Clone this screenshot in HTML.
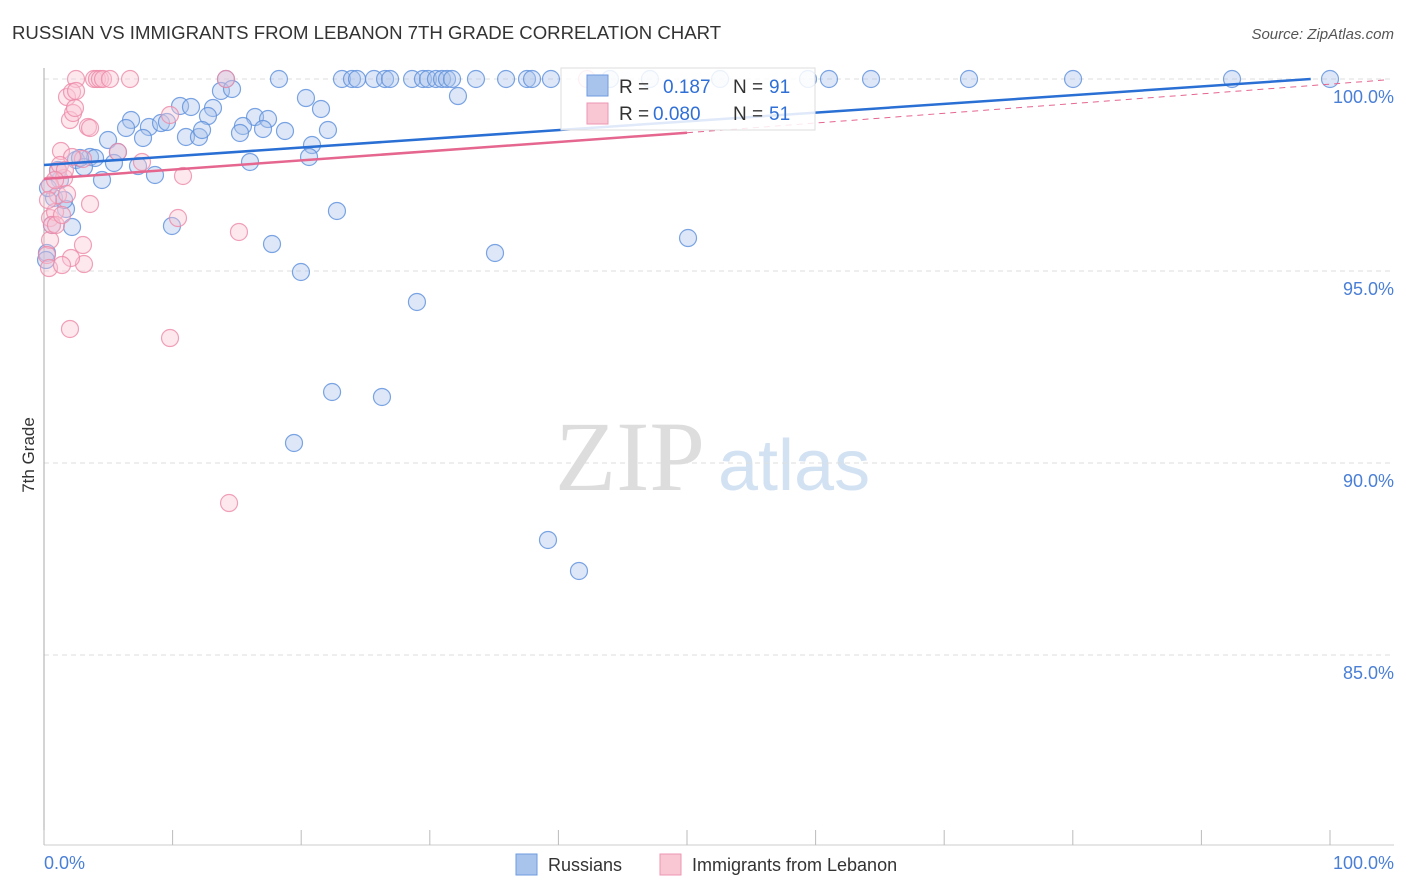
<!DOCTYPE html>
<html><head><meta charset="utf-8"><style>
body{margin:0;background:#fff;font-family:"Liberation Sans",sans-serif}
svg{display:block}
</style></head><body>
<svg id="c" width="1406" height="892">
<text x="12" y="39" font-size="18.6" fill="#333">RUSSIAN VS IMMIGRANTS FROM LEBANON 7TH GRADE CORRELATION CHART</text>
<text x="1394" y="39" font-size="15" fill="#555" text-anchor="end" font-style="italic">Source: ZipAtlas.com</text>
<text x="34" y="455" font-size="17" fill="#333" transform="rotate(-90 34 455)" text-anchor="middle">7th Grade</text>
<text x="555" y="490" font-size="100" fill="#ddd" font-family="Liberation Serif,serif">ZIP</text>
<text x="718" y="490" font-size="72" fill="#d3e2f3">atlas</text>
<g id="grid"></g><g id="pts"></g><g id="lines"></g>
<g>
<rect x="561" y="68" width="254" height="62" fill="#fff" fill-opacity="0.85" stroke="#ddd"/>
<rect x="587" y="75" width="21" height="21" fill="#a9c4ec" stroke="#6f9be0"/>
<rect x="587" y="103" width="21" height="21" fill="#f9c6d4" stroke="#ec96b0"/>
<text x="619" y="93" font-size="19" fill="#333">R = </text><text x="663" y="93" font-size="19" fill="#2f6fd6">0.187</text>
<text x="733" y="93" font-size="19" fill="#333">N = </text><text x="769" y="93" font-size="19" fill="#2f6fd6">91</text>
<text x="619" y="120" font-size="19" fill="#333">R = </text><text x="653" y="120" font-size="19" fill="#2f6fd6">0.080</text>
<text x="733" y="120" font-size="19" fill="#333">N = </text><text x="769" y="120" font-size="19" fill="#2f6fd6">51</text>
</g>
<g>
<rect x="516" y="854" width="21" height="21" fill="#a9c4ec" stroke="#6f9be0"/>
<text x="548" y="871" font-size="18" fill="#333">Russians</text>
<rect x="660" y="854" width="21" height="21" fill="#f9c6d4" stroke="#ec96b0"/>
<text x="692" y="871" font-size="18" fill="#333">Immigrants from Lebanon</text>
</g>
<text x="44" y="869" font-size="18" fill="#4a7fd6">0.0%</text>
<text x="1394" y="869" font-size="18" fill="#4a7fd6" text-anchor="end">100.0%</text>
</svg>
<script>
const yTicks=[100,95,90,85];
const yTickLabels=["100.0%","95.0%","90.0%","85.0%"];
const xTicks=[0,10,20,30,40,50,60,70,80,90,100];
const bluePx=[[226,79],[279,79],[342,79],[352,79],[357,79],[374,79],[385,79],[390,79],[412,79],[423,79],[428,79],[436,79],[442,79],[447,79],[452,79],[476,79],[506,79],[527,79],[532,79],[551,79],[610,79],[650,79],[720,79],[808,79],[829,79],[871,79],[969,79],[1073,79],[1232,79],[1330,79],[221,91],[232,89],[180,106],[191,107],[213,108],[306,98],[321,109],[458,96],[131,120],[126,128],[149,127],[161,123],[167,122],[208,116],[255,117],[268,119],[243,126],[240,133],[263,129],[285,131],[328,130],[108,140],[143,138],[186,137],[199,137],[202,130],[312,145],[90,157],[95,158],[118,152],[76,160],[84,167],[114,163],[138,166],[250,162],[309,157],[155,175],[102,180],[60,180],[66,209],[54,198],[72,227],[47,253],[337,211],[172,226],[272,244],[495,253],[688,238],[301,272],[417,302],[332,392],[382,397],[294,443],[548,540],[579,571],[48,188],[58,170],[80,158],[52,225],[64,200],[46,260]];
const pinkPx=[[76,79],[94,79],[97,79],[100,79],[103,79],[110,79],[130,79],[226,79],[587,79],[67,97],[72,92],[76,91],[70,120],[88,127],[90,128],[73,113],[83,159],[61,151],[72,157],[58,171],[64,178],[50,185],[58,195],[67,194],[50,218],[55,212],[50,240],[47,255],[49,268],[70,329],[84,264],[83,245],[71,258],[178,218],[170,338],[239,232],[183,176],[142,162],[118,152],[229,503],[60,165],[52,225],[56,225],[62,265],[48,200],[90,204],[65,170],[55,180],[62,215],[75,108],[170,115]];
const russiansX=bluePx.map(p=>+((p[0]-44)/12.86).toFixed(2));
const russiansY=bluePx.map(p=>+(100-(p[1]-79)/38.4).toFixed(3));
const lebanonX=pinkPx.map(p=>+((p[0]-44)/12.86).toFixed(2));
const lebanonY=pinkPx.map(p=>+(100-(p[1]-79)/38.4).toFixed(3));
const blueTrend=[97.76,100.0];
const pinkTrend=[97.4,98.6,99.98];
</script>
<script>
const NS="http://www.w3.org/2000/svg";
const X=v=>44+v*12.86, Y=v=>79+(100-v)*38.4;
function mk(t,a,p){const e=document.createElementNS(NS,t);for(const k in a)e.setAttribute(k,a[k]);p.appendChild(e);return e;}
const g=document.getElementById('grid'),svg=document.getElementById('c');
yTicks.forEach((t,i)=>{
 const l=mk('line',{x1:44,x2:1394,y1:Y(t),y2:Y(t),stroke:'#ddd','stroke-dasharray':'5,4'},g);
 
 
 const tx=mk('text',{x:1394,y:Y(t)+24,'font-size':18,fill:'#4a7fd6','text-anchor':'end'},g);
 tx.textContent=yTickLabels[i];
 
 
});
mk('line',{x1:44,x2:44,y1:68,y2:845,stroke:'#aaa'},g);
mk('line',{x1:44,x2:1394,y1:845,y2:845,stroke:'#ccc'},g);
xTicks.forEach(t=>{const l=mk('line',{x1:X(t),x2:X(t),y1:830,y2:845,stroke:'#bbb'},g);
 
 });
const pg=document.getElementById('pts');
function dots(xs,ys,fill,stroke,name){xs.forEach((x,i)=>{
 const c=mk('circle',{cx:X(x),cy:Y(ys[i]),r:8.5,fill:fill,'fill-opacity':0.4,stroke:stroke,'stroke-width':1.2,'stroke-opacity':0.8},pg);
 
 });}
dots(russiansX,russiansY,'#a9c4ec','#5b8fdc','russians-point');
dots(lebanonX,lebanonY,'#f9c6d4','#ec8aa8','lebanon-point');
const lg=document.getElementById('lines');
const bl=mk('line',{x1:X(0),y1:Y(blueTrend[0]),x2:X(98.5),y2:Y(blueTrend[1]),stroke:'#2a6fd4','stroke-width':2.5},lg);


const pl=mk('line',{x1:X(0),y1:Y(pinkTrend[0]),x2:X(50),y2:Y(pinkTrend[1]),stroke:'#e5668f','stroke-width':2.5},lg);


const pd=mk('line',{x1:X(50),y1:Y(pinkTrend[1]),x2:X(104.5),y2:Y(pinkTrend[2]),stroke:'#e5668f','stroke-width':1,'stroke-dasharray':'6,5'},lg);


</script>
</body></html>
